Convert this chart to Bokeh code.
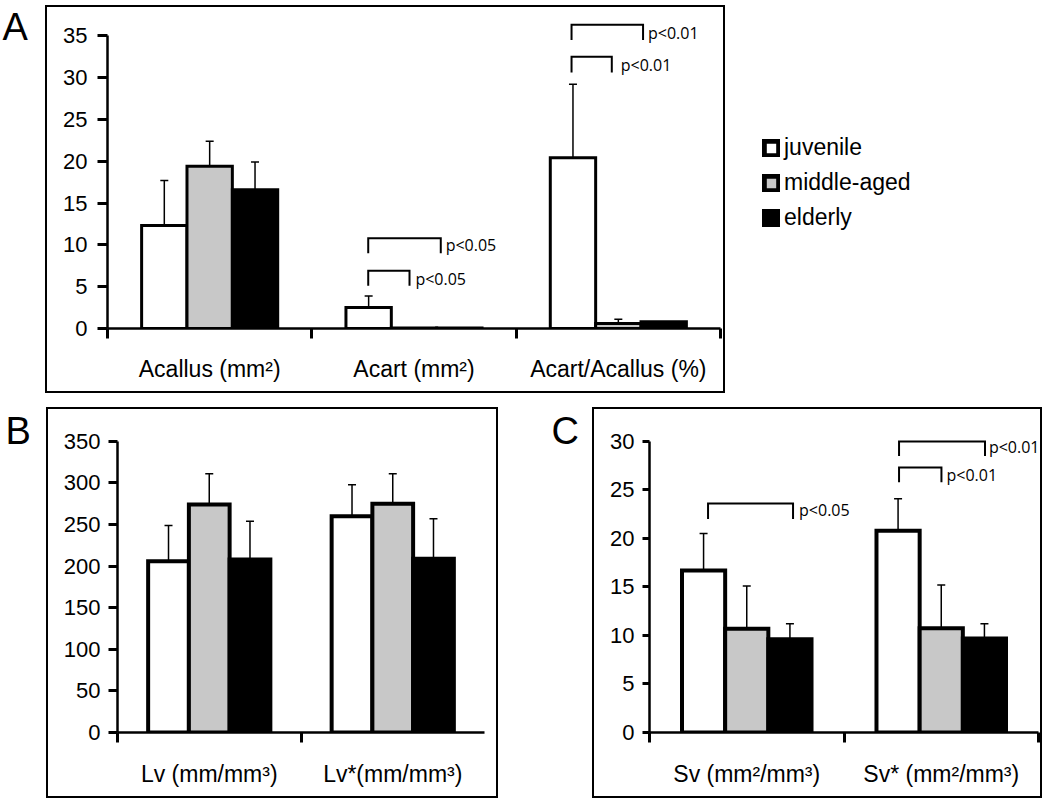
from bokeh.plotting import figure
from bokeh.models import (Range1d, FixedTicker, Whisker, TeeHead, Spacer,
                          ColumnDataSource, Legend, LegendItem)
from bokeh.layouts import column, row
from bokeh.core.properties import value
from bokeh.embed import file_html
from bokeh.resources import INLINE

# ---------------- data ----------------
groups = ["juvenile", "middle-aged", "elderly"]

a_categories = ["Acallus (mm²)", "Acart (mm²)", "Acart/Acallus (%)"]
a_juvenile = [12.3, 2.5, 20.4]
a_middle = [19.4, 0.06, 0.6]
a_elderly = [16.6, 0.06, 0.8]
a_juvenile_upper = [17.7, 3.9, 29.2]      # top of error bars
a_middle_upper = [22.4, None, 1.1]
a_elderly_upper = [19.9, None, None]
a_yticks = [0, 5, 10, 15, 20, 25, 30, 35]

b_categories = ["Lv (mm/mm³)", "Lv*(mm/mm³)"]
b_juvenile = [206, 260]
b_middle = [274, 275]
b_elderly = [208, 209]
b_juvenile_upper = [249, 298]
b_middle_upper = [311, 311]
b_elderly_upper = [254, 257]
b_yticks = [0, 50, 100, 150, 200, 250, 300, 350]

c_categories = ["Sv (mm²/mm³)", "Sv* (mm²/mm³)"]
c_juvenile = [16.7, 20.8]
c_middle = [10.7, 10.75]
c_elderly = [9.6, 9.7]
c_juvenile_upper = [20.5, 24.1]
c_middle_upper = [15.1, 15.2]
c_elderly_upper = [11.2, 11.2]
c_yticks = [0, 5, 10, 15, 20, 25, 30]

a_sig_labels = ["p<0.05", "p<0.05", "p<0.01", "p<0.01"]
c_sig_labels = ["p<0.05", "p<0.01", "p<0.01"]

# ---------------- styling / layout ----------------
FONT = "Liberation Sans"
PFONT = "Open Sans"
BAR_W = 0.222
OFFSETS = [-BAR_W, 0.0, BAR_W]
FILLS = ["#ffffff", "#c8c8c8", "#000000"]
BOX = {"border": "2px solid black"}

# bracket geometry: (category, left offset, right offset, top y, drop y, text x offset, text y)
a_bracket_geo = [
    (1, -0.224, -0.022, 6.9, 5.1, 0.007, 5.95),
    (1, -0.224, 0.131, 10.8, 9.0, 0.155, 9.95),
    (2, -0.229, -0.032, 32.5, 30.6, 0.012, 31.45),
    (2, -0.229, 0.121, 36.3, 34.5, 0.145, 35.35),
]
c_bracket_geo = [
    (0, -0.199, 0.238, 23.6, 22.0, 0.269, 22.9),
    (1, -0.217, 0.001, 27.3, 25.8, 0.027, 26.5),
    (1, -0.217, 0.225, 30.0, 28.5, 0.245, 29.45),
]


def clean(p):
    p.outline_line_color = None
    p.xgrid.grid_line_color = None
    p.ygrid.grid_line_color = None
    p.background_fill_color = "white"
    p.border_fill_color = "white"


def base_fig(width, height, left, right, top, bottom, xmax, ymax):
    p = figure(width=width, height=height,
               x_range=Range1d(-0.5, xmax), y_range=Range1d(0, ymax),
               output_backend="svg", toolbar_location=None,
               min_border_left=left, min_border_right=right,
               min_border_top=top, min_border_bottom=bottom,
               styles=BOX)
    clean(p)
    return p


def style_axes(p, yticks, ybound, cats, sep_ticks, ytick_out, ystandoff, xstandoff):
    ya = p.yaxis[0]
    ya.ticker = FixedTicker(ticks=yticks)
    ya.bounds = (0, ybound)
    ya.axis_line_width = 2.5
    ya.axis_line_color = "black"
    ya.major_tick_line_width = 3
    ya.major_tick_line_color = "black"
    ya.major_tick_out = ytick_out
    ya.major_tick_in = 0
    ya.minor_tick_line_color = None
    ya.major_label_standoff = ystandoff
    ya.major_label_text_font = FONT
    ya.major_label_text_font_size = "22px"
    ya.major_label_text_color = "black"

    xa = p.xaxis[0]
    xa.ticker = FixedTicker(ticks=list(range(len(cats))), minor_ticks=sep_ticks)
    xa.major_label_overrides = {i: c for i, c in enumerate(cats)}
    xa.major_tick_line_color = None
    xa.major_tick_out = 0
    xa.major_tick_in = 0
    xa.minor_tick_out = 10
    xa.minor_tick_in = 0
    xa.minor_tick_line_width = 3
    xa.minor_tick_line_color = "black"
    xa.axis_line_width = 2.5
    xa.axis_line_color = "black"
    xa.major_label_standoff = xstandoff
    xa.major_label_text_font = FONT
    xa.major_label_text_font_size = "23px"
    xa.major_label_text_color = "black"


def add_bars(p, series, uppers, lw):
    for k, vals in enumerate(series):
        xs = [i + OFFSETS[k] for i in range(len(vals))]
        p.vbar(x=xs, top=vals, bottom=0, width=BAR_W, fill_color=FILLS[k],
               line_color="black", line_width=lw, line_join="miter")
    base, lower, upper = [], [], []
    for k, (vals, ups) in enumerate(zip(series, uppers)):
        for i, (v, u) in enumerate(zip(vals, ups)):
            if u is not None:
                base.append(i + OFFSETS[k])
                lower.append(v)
                upper.append(u)
    src = ColumnDataSource(dict(base=base, lower=lower, upper=upper))
    w = Whisker(source=src, base="base", lower="lower", upper="upper",
                dimension="height", line_width=1.5, line_color="black",
                upper_head=TeeHead(size=8, line_width=1.5, line_color="black"),
                lower_head=None)
    p.add_layout(w)


def add_sig(p, geo, labels):
    xs, ys, tx, ty = [], [], [], []
    for (cat, xl, xr, yt, yb, txo, tyv) in geo:
        xs.append([cat + xl, cat + xl, cat + xr, cat + xr])
        ys.append([yb, yt, yt, yb])
        tx.append(cat + txo)
        ty.append(tyv)
    p.multi_line(xs=xs, ys=ys, line_color="black", line_width=2, line_join="miter")
    p.text(x=tx, y=ty, text=labels, text_font=value(PFONT), text_font_size="16px",
           text_baseline="middle", text_align="left", text_color="black")


def plain_fig(w, h):
    p = figure(width=w, height=h, x_range=Range1d(0, w), y_range=Range1d(h, 0),
               output_backend="svg", toolbar_location=None, min_border=0,
               x_axis_location=None, y_axis_location=None)
    clean(p)
    return p


def letter_fig(txt, w, h, x, y):
    p = plain_fig(w, h)
    p.text(x=[x], y=[y], text=[txt], text_font=value(FONT), text_font_size="38px",
           text_baseline="middle", text_align="left", text_color="black")
    return p


# ---------------- panel A ----------------
pA = base_fig(680, 388, 60, 7, 8, 67, 2.5, 37.42)
style_axes(pA, a_yticks, 35, a_categories, [-0.5, 0.5, 1.5, 2.5], 10, 10, 17)
add_bars(pA, [a_juvenile, a_middle, a_elderly],
         [a_juvenile_upper, a_middle_upper, a_elderly_upper], 3)
add_sig(pA, a_bracket_geo, a_sig_labels)

# legend (outside the box, on its own canvas). The key renderers are zero-size
# marks hidden underneath the solid black "elderly" key square.
pL = plain_fig(325, 400)
dummies = [pL.vbar(x=[46], top=[217], bottom=[217], width=0.1, fill_color=FILLS[k],
                   line_color="black", line_width=5, line_join="miter")
           for k in range(3)]
legend = Legend(items=[LegendItem(label=g, renderers=[r]) for g, r in zip(groups, dummies)],
                location=(37, 169), glyph_width=18, glyph_height=18,
                label_text_font=FONT, label_text_font_size="23px", label_text_color="black",
                label_standoff=4, spacing=8, padding=0, margin=0,
                border_line_color=None, background_fill_alpha=0)
pL.add_layout(legend)

# ---------------- panel B ----------------
pB = base_fig(452, 391, 69, 16, 16, 68, 1.5, 369.1)
style_axes(pB, b_yticks, 350, b_categories, [-0.5, 0.5], 9, 8, 18)
add_bars(pB, [b_juvenile, b_middle, b_elderly],
         [b_juvenile_upper, b_middle_upper, b_elderly_upper], 4)

# ---------------- panel C ----------------
pC = base_fig(450, 391, 55, 6, 16, 68, 1.5, 31.64)
style_axes(pC, c_yticks, 30, c_categories, [-0.5, 0.5, 1.5], 7, 8, 18)
add_bars(pC, [c_juvenile, c_middle, c_elderly],
         [c_juvenile_upper, c_middle_upper, c_elderly_upper], 4)
add_sig(pC, c_bracket_geo, c_sig_labels)

row1 = row(letter_fig("A", 45, 400, 2, 26),
           column(Spacer(width=680, height=5), pA),
           pL)
row2 = row(letter_fig("B", 46, 404, 5, 30),
           column(Spacer(width=452, height=7), pB),
           letter_fig("C", 94, 404, 53, 30),
           column(Spacer(width=450, height=7), pC))

root = column(row1, row2,
              styles={"position": "absolute", "left": "0px", "top": "0px"})

open("out.html", "w", encoding="utf-8").write(file_html(root, INLINE))
